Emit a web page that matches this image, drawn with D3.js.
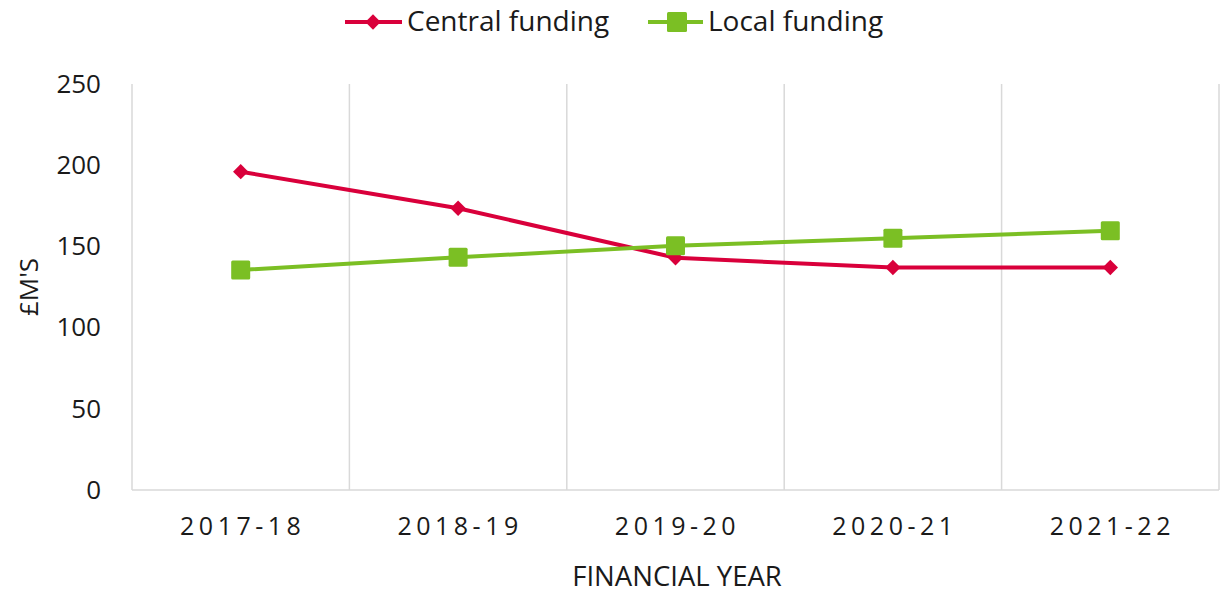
<!DOCTYPE html>
<html>
<head>
<meta charset="utf-8">
<script src="https://cdn.jsdelivr.net/npm/d3@7"></script>
<style>
  body { margin: 0; background: #fff; }
  text { font-family: "Open Sans", "Liberation Sans", sans-serif; fill: #1a1a1a; }
</style>
</head>
<body>
<div id="chart"></div>
<script>
// Chart data
let years = ["2017-18", "2018-19", "2019-20", "2020-21", "2021-22"];
let central = [196, 173.5, 143, 137, 137];
let local = [135.5, 143.3, 150.4, 155, 159.7];
let yTicks = [0, 50, 100, 150, 200, 250];

let W = 1224, H = 595;
let dim = { top: 84, right: 5, bottom: 105, left: 132 };
let width = W - dim.left - dim.right;
let height = H - dim.top - dim.bottom;

let svg = d3.select("#chart")
  .append("svg")
  .attr("width", W)
  .attr("height", H);

let g = svg.append("g")
  .attr("transform", "translate(" + dim.left + "," + dim.top + ")");

let x = d3.scaleBand()
  .domain(years)
  .range([0, width]);

let y = d3.scaleLinear()
  .domain([0, 250])
  .range([height, 0]);

// vertical gridlines at category boundaries
let bounds = years.map(d => x(d)).concat([width]);
g.selectAll(".vgrid")
  .data(bounds)
  .enter().append("line")
  .attr("x1", d => d).attr("x2", d => d)
  .attr("y1", 0).attr("y2", height)
  .attr("stroke", "#d9d9d9")
  .attr("stroke-width", 1.5);

// bottom axis line
g.append("line")
  .attr("x1", 0).attr("x2", width)
  .attr("y1", height).attr("y2", height)
  .attr("stroke", "#d9d9d9")
  .attr("stroke-width", 1.5);

// Y axis labels
let yAxis = g.append("g")
  .call(d3.axisLeft(y).tickValues(yTicks).tickSize(0).tickPadding(31));
yAxis.select(".domain").remove();
yAxis.selectAll("text")
  .style("font-size", "26px")
  .style("fill", "#1a1a1a")
  .style("font-family", "'Open Sans', sans-serif");

// X axis labels
let xAxis = g.append("g")
  .attr("transform", "translate(0," + height + ")")
  .call(d3.axisBottom(x).tickSize(0).tickPadding(27));
xAxis.select(".domain").remove();
xAxis.selectAll("text")
  .style("font-size", "25px")
  .style("letter-spacing", "4.5px")
  .attr("dx", "2px")
  .style("fill", "#1a1a1a")
  .style("font-family", "'Open Sans', sans-serif");

// Axis titles
svg.append("text")
  .attr("text-anchor", "middle")
  .attr("transform", "translate(38,287) rotate(-90)")
  .style("font-size", "26px")
  .text("£M'S");

svg.append("text")
  .attr("text-anchor", "middle")
  .attr("x", 677)
  .attr("y", 586)
  .style("font-size", "27.5px")
  .text("FINANCIAL YEAR");

let red = "#d9003b", green = "#7bbf24";
let cx = d => x(d) + x.bandwidth() / 2;

let line = d3.line()
  .x((d, i) => cx(years[i]))
  .y(d => y(d));

g.append("path")
  .datum(central)
  .attr("d", line)
  .attr("fill", "none")
  .attr("stroke", red)
  .attr("stroke-width", 4);

g.append("path")
  .datum(local)
  .attr("d", line)
  .attr("fill", "none")
  .attr("stroke", green)
  .attr("stroke-width", 4);

let diamond = d3.symbol().type(d3.symbolDiamond2).size(150);
g.selectAll(".cm")
  .data(central)
  .enter().append("path")
  .attr("d", diamond)
  .attr("transform", (d, i) => "translate(" + cx(years[i]) + "," + y(d) + ")")
  .attr("fill", red);

g.selectAll(".lm")
  .data(local)
  .enter().append("rect")
  .attr("x", (d, i) => cx(years[i]) - 9.5)
  .attr("y", d => y(d) - 9.5)
  .attr("width", 19).attr("height", 19)
  .attr("rx", 1.5)
  .attr("fill", green);

// Legend
let legend = svg.append("g");
legend.append("line")
  .attr("x1", 345).attr("x2", 402).attr("y1", 22).attr("y2", 22)
  .attr("stroke", red).attr("stroke-width", 4);
legend.append("path")
  .attr("d", diamond)
  .attr("transform", "translate(373,22)")
  .attr("fill", red);
legend.append("text")
  .attr("x", 407).attr("y", 31)
  .style("font-size", "28px")
  .text("Central funding");

legend.append("line")
  .attr("x1", 648).attr("x2", 703).attr("y1", 22).attr("y2", 22)
  .attr("stroke", green).attr("stroke-width", 4);
legend.append("rect")
  .attr("x", 667).attr("y", 12).attr("width", 20).attr("height", 20)
  .attr("rx", 1.5)
  .attr("fill", green);
legend.append("text")
  .attr("x", 708).attr("y", 31)
  .style("font-size", "28px")
  .text("Local funding");
</script>
</body>
</html>
